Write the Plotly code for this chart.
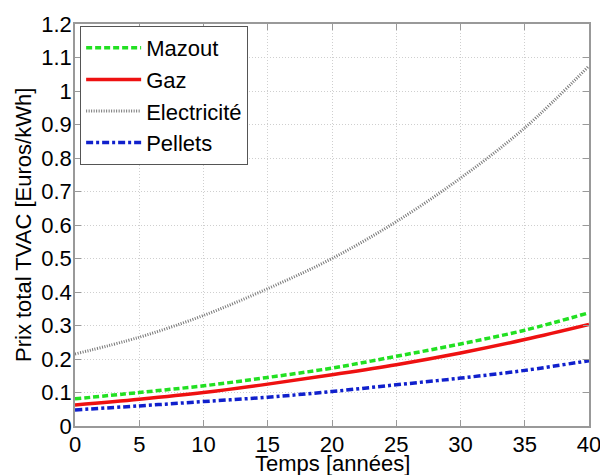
import plotly.graph_objects as go

years = [0, 5, 10, 15, 20, 25, 30, 35, 40]
mazout = [0.081, 0.100, 0.120, 0.145, 0.173, 0.208, 0.245, 0.286, 0.338]
gaz = [0.063, 0.080, 0.100, 0.125, 0.153, 0.183, 0.218, 0.258, 0.303]
electricite = [0.215, 0.265, 0.330, 0.410, 0.500, 0.610, 0.740, 0.890, 1.075]
pellets = [0.048, 0.060, 0.073, 0.086, 0.103, 0.123, 0.143, 0.166, 0.195]

x_ticks = [0, 5, 10, 15, 20, 25, 30, 35, 40]
y_ticks = [0, 0.1, 0.2, 0.3, 0.4, 0.5, 0.6, 0.7, 0.8, 0.9, 1.0, 1.1, 1.2]
y_ticktext = ["0", "0.1", "0.2", "0.3", "0.4", "0.5", "0.6", "0.7", "0.8", "0.9", "1", "1.1", "1.2"]

x_title = "Temps [années]"
y_title = "Prix total TVAC [Euros/kWh]"

FONT = "Liberation Sans, Arial, sans-serif"
FS = 22

fig = go.Figure()
fig.add_trace(go.Scatter(x=years, y=mazout, name="Mazout", mode="lines",
                         line=dict(color="#22e022", width=3.5, dash="6px,3px", shape="spline")))
fig.add_trace(go.Scatter(x=years, y=gaz, name="Gaz", mode="lines",
                         line=dict(color="#ee1111", width=3.5, shape="spline")))
fig.add_trace(go.Scatter(x=years, y=electricite, name="Electricité", mode="lines",
                         line=dict(color="#777777", width=3, dash="1px,1.5px", shape="spline")))
fig.add_trace(go.Scatter(x=years, y=pellets, name="Pellets", mode="lines",
                         line=dict(color="#1020cc", width=3.5, dash="7px,3px,3px,3px", shape="spline")))

axis_common = dict(
    showline=True, linecolor="#999999", linewidth=1.5, mirror="allticks",
    ticks="inside", ticklen=6, tickcolor="#999999",
    showgrid=True, gridcolor="#cfcfcf", griddash="1px,2px", gridwidth=1,
    zeroline=False, automargin=False, ticklabeloverflow="allow",
    tickfont=dict(family=FONT, size=FS, color="black"),
)

fig.update_xaxes(range=[0, 40], tickvals=x_ticks, ticklabelstandoff=-2, **axis_common)
fig.update_yaxes(range=[0, 1.2], tickvals=y_ticks, ticktext=y_ticktext,
                 ticklabelstandoff=-3, **axis_common)

fig.add_annotation(text=x_title, xref="paper", yref="paper", x=0.5, y=0,
                   yshift=-37, xanchor="center", yanchor="middle", showarrow=False,
                   font=dict(family=FONT, size=FS, color="black"))
fig.add_annotation(text=y_title, xref="paper", yref="paper", x=0, y=0.5,
                   xshift=-52, xanchor="center", yanchor="middle", showarrow=False,
                   textangle=-90, font=dict(family=FONT, size=FS, color="black"))

fig.update_layout(
    width=600, height=475,
    margin=dict(l=75, r=11, t=24, b=49),
    paper_bgcolor="white", plot_bgcolor="white",
    font=dict(family=FONT, size=FS, color="black"),
    legend=dict(x=0.01, y=0.995, xanchor="left", yanchor="top",
                bgcolor="white", bordercolor="#555555", borderwidth=1,
                font=dict(family=FONT, size=FS, color="black"),
                tracegroupgap=0, itemwidth=55),
    showlegend=True,
)

fig.write_html("out.html", config={"displayModeBar": False},
               post_script="document.body.style.margin='0';")
